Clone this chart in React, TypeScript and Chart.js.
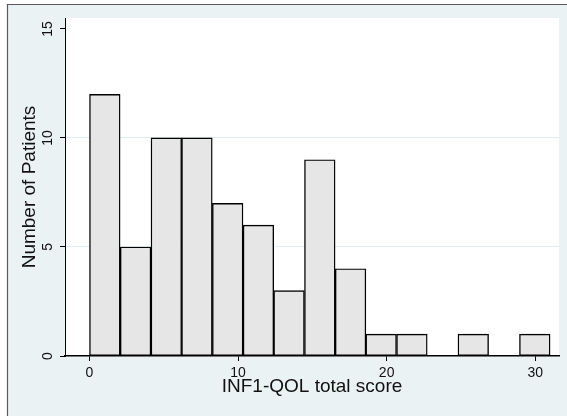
import React, { useEffect, useRef } from "react";
import { Chart, registerables } from "chart.js";

Chart.register(...registerables);

// Histogram bins (centers of bins, width ≈ 2.07) and patient counts
const binCenters = [1.03, 3.1, 5.17, 7.23, 9.3, 11.37, 13.43, 15.5, 17.57, 19.63, 21.7, 23.77, 25.83, 27.9, 29.97];
const patientCounts = [12, 5, 10, 10, 7, 6, 3, 9, 4, 1, 1, 0, 1, 0, 1];
const xTickValues = [0, 10, 20, 30];
const yTickValues = [0, 5, 10, 15];
const yGridValues = [5, 10];
const xTitle = "INF1-QOL total score";
const yTitle = "Number of Patients";

const FONT = "'Liberation Sans', Arial, sans-serif";

const bgPlugin = {
  id: "stataBg",
  beforeDraw(chart: any) {
    const { ctx, width, height, chartArea } = chart;
    ctx.save();
    ctx.fillStyle = "#ffffff";
    ctx.fillRect(0, 0, width, height);
    ctx.fillStyle = "#eaf2f3";
    ctx.fillRect(7, 4, width - 7, height - 4);
    ctx.strokeStyle = "#5a5a5a";
    ctx.lineWidth = 1.2;
    ctx.beginPath();
    ctx.moveTo(7.5, height);
    ctx.lineTo(7.5, 4.5);
    ctx.lineTo(width, 4.5);
    ctx.stroke();
    ctx.fillStyle = "#ffffff";
    ctx.fillRect(chartArea.left, chartArea.top, chartArea.right - chartArea.left, chartArea.bottom - chartArea.top);
    ctx.restore();
  },
  afterDraw(chart: any) {
    const { ctx } = chart;
    const ys = chart.scales.y;
    ctx.save();
    ctx.fillStyle = "#111";
    ctx.font = `14px ${FONT}`;
    ctx.textAlign = "center";
    ctx.textBaseline = "middle";
    yTickValues.forEach((v) => {
      const py = ys.getPixelForValue(v);
      ctx.save();
      ctx.translate(48, py);
      ctx.rotate(-Math.PI / 2);
      ctx.fillText(String(v), 0, 0);
      ctx.restore();
    });
    ctx.restore();
  },
};

export default function App() {
  const ref = useRef<HTMLCanvasElement | null>(null);
  useEffect(() => {
    if (!ref.current) return;
    const chart = new Chart(ref.current, {
      type: "bar",
      data: {
        datasets: [
          {
            data: binCenters.map((c, i) => ({ x: c, y: patientCounts[i] === 0 ? null : patientCounts[i] })) as any,
            backgroundColor: "#e6e6e6",
            borderColor: "#000000",
            borderWidth: 1.4,
            borderSkipped: false,
            barPercentage: 1,
            categoryPercentage: 1,
          },
        ],
      },
      options: {
        responsive: false,
        animation: false,
        layout: { padding: { left: 0, top: 18, right: 8, bottom: 0 } },
        plugins: { legend: { display: false }, tooltip: { enabled: false } },
        scales: {
          x: {
            type: "linear",
            offset: false,
            min: -1.65,
            max: 31.6,
            afterBuildTicks: (s: any) => {
              s.ticks = xTickValues.map((v) => ({ value: v }));
            },
            afterFit: (s: any) => {
              s.height = 60;
            },
            grid: { offset: false, drawOnChartArea: false, drawTicks: true, tickLength: 5, tickColor: "#000", tickWidth: 1 },
            border: { display: true, color: "#000", width: 1.5 },
            ticks: { color: "#111", font: { family: FONT, size: 14 }, padding: 4, maxRotation: 0, autoSkip: false },
            title: {
              display: true,
              text: xTitle,
              color: "#111",
              font: { family: FONT, size: 19 },
              padding: { top: 0, bottom: 17.6 },
            },
          },
          y: {
            type: "linear",
            min: 0,
            max: 15.5,
            afterBuildTicks: (s: any) => {
              s.ticks = yTickValues.map((v) => ({ value: v }));
            },
            afterFit: (s: any) => {
              s.width = 65;
            },
            grid: {
              drawOnChartArea: true,
              drawTicks: true,
              tickLength: 5,
              tickColor: "#000",
              tickWidth: 1,
              color: (c: any) => (c.tick && yGridValues.includes(c.tick.value) ? "#e3edef" : "rgba(0,0,0,0)"),
            },
            border: { display: true, color: "#000", width: 1 },
            ticks: { color: "rgba(0,0,0,0)", font: { family: FONT, size: 14 }, autoSkip: false },
            title: {
              display: true,
              text: yTitle,
              color: "#111",
              font: { family: FONT, size: 19 },
              padding: { top: 18.6, bottom: 0 },
            },
          },
        },
      },
      plugins: [bgPlugin],
    });
    return () => chart.destroy();
  }, []);
  return (
    <div style={{ position: "fixed", left: 0, top: 0, width: 567, height: 416 }}>
      <canvas ref={ref} width={567} height={416} style={{ display: "block" }} />
    </div>
  );
}
